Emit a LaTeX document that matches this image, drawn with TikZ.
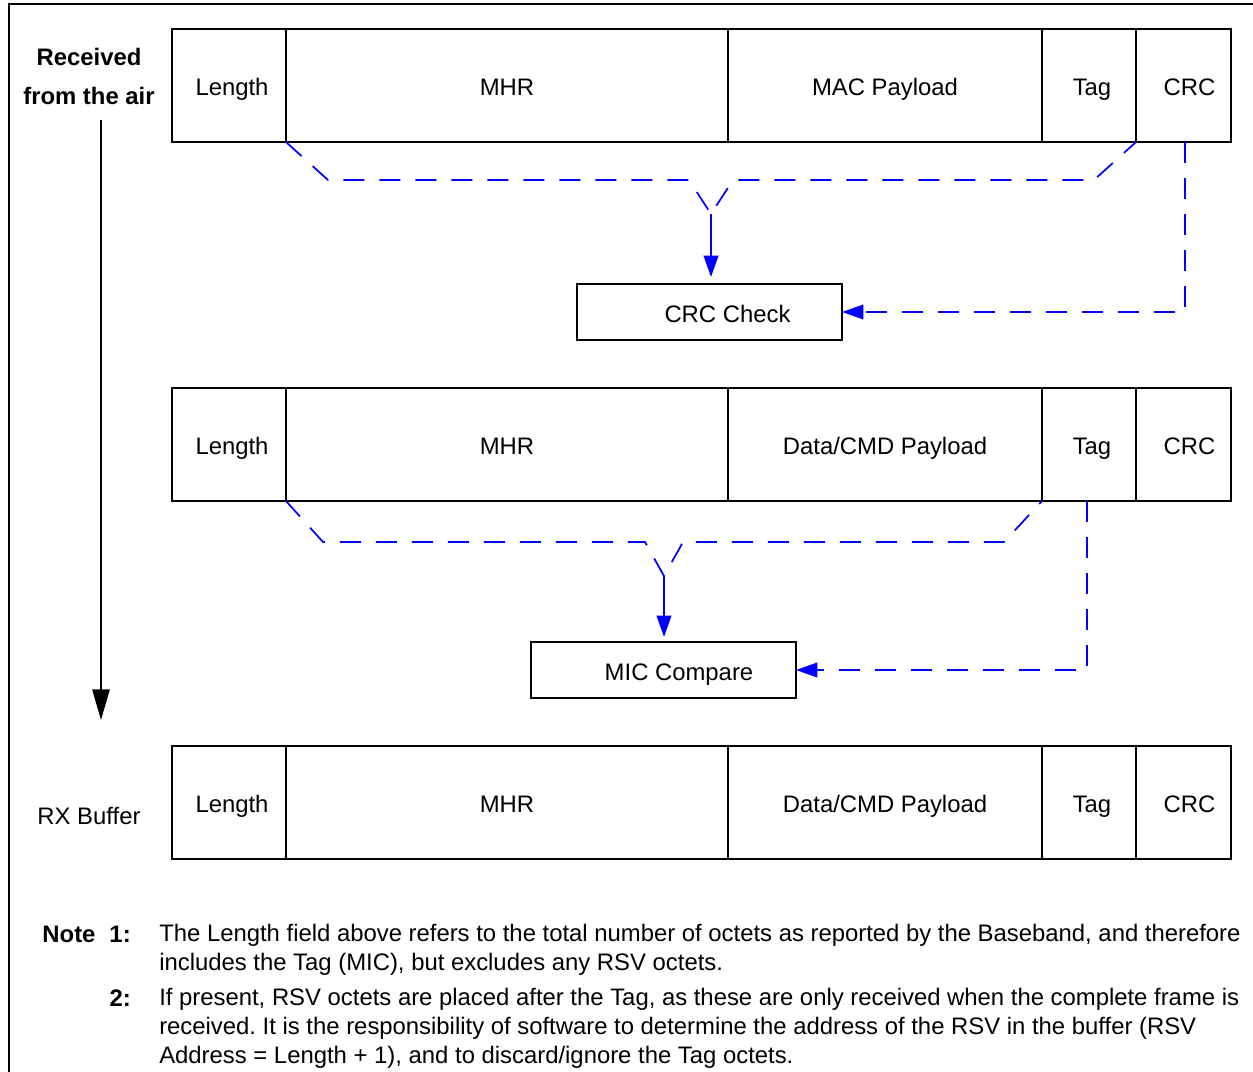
\documentclass[tikz,border=0pt]{standalone}
\usepackage{fontspec}
\setmainfont{Liberation Sans}
\usetikzlibrary{positioning,arrows.meta}
\newlength\px
\setlength\px{0.75pt}
\newcommand{\diagfont}{\fontsize{17.9}{21.75}\selectfont}
\definecolor{linkblue}{RGB}{0,0,255}
\frenchspacing

\begin{document}
\begin{tikzpicture}[
    x=0.75pt, y=-0.75pt,
    cell/.style={draw=black, line width=1.2pt, minimum height=113\px, inner sep=0pt, outer sep=0pt, text height=15pt, text depth=0pt, font=\diagfont},
    checkbox/.style={draw=black, line width=1.2pt, minimum height=56\px, minimum width=265\px, inner sep=0pt, outer sep=0pt, text height=15pt, text depth=0pt, font=\diagfont},
    bluedash/.style={draw=linkblue, line width=1.3pt, dash pattern=on 21\px off 15\px},
    bluearrow/.style={draw=linkblue, line width=1.3pt, -{Triangle[length=16pt, width=11pt]}}
    ]
        \useasboundingbox (0,0) rectangle (1253,1071);
        %Frame
        \draw[line width=1.3pt] (9,1080) -- (9,4) -- (1260,4);

        %Received from the air
        \node[font=\diagfont\bfseries, align=center, inner sep=0pt]
            (air)   at (89,76)   {Received\\[7.5pt]from the air};
        \node[font=\diagfont, inner sep=0pt]
            (rxbuf) at (89,816)  {RX Buffer};
        \coordinate (airtop) at (101,120);
        \coordinate (airbot) at (101,720);
        \draw[line width=1.3pt, -{Triangle[length=23pt, width=13pt]}]
            (airtop) -- (airbot);

        %Frame as received
        \node[cell, minimum width=114\px, anchor=north west]
            (len1)                          at (172,29) {\hspace*{6\px}Length};
        \node[cell, minimum width=442\px]
            (mhr1)  [right=0pt of len1]     {MHR};
        \node[cell, minimum width=314\px]
            (pay1)  [right=0pt of mhr1]     {MAC Payload};
        \node[cell, minimum width=94\px]
            (tag1)  [right=0pt of pay1]     {\hspace*{6\px}Tag};
        \node[cell, minimum width=95\px]
            (crc1)  [right=0pt of tag1]     {\hspace*{12\px}CRC};

        %Frame after CRC check
        \node[cell, minimum width=114\px, anchor=north west]
            (len2)                          at (172,388) {\hspace*{6\px}Length};
        \node[cell, minimum width=442\px]
            (mhr2)  [right=0pt of len2]     {MHR};
        \node[cell, minimum width=314\px]
            (pay2)  [right=0pt of mhr2]     {Data/CMD Payload};
        \node[cell, minimum width=94\px]
            (tag2)  [right=0pt of pay2]     {\hspace*{6\px}Tag};
        \node[cell, minimum width=95\px]
            (crc2)  [right=0pt of tag2]     {\hspace*{12\px}CRC};

        %Frame in RX buffer
        \node[cell, minimum width=114\px, anchor=north west]
            (len3)                          at (172,746) {\hspace*{6\px}Length};
        \node[cell, minimum width=442\px]
            (mhr3)  [right=0pt of len3]     {MHR};
        \node[cell, minimum width=314\px]
            (pay3)  [right=0pt of mhr3]     {Data/CMD Payload};
        \node[cell, minimum width=94\px]
            (tag3)  [right=0pt of pay3]     {\hspace*{6\px}Tag};
        \node[cell, minimum width=95\px]
            (crc3)  [right=0pt of tag3]     {\hspace*{12\px}CRC};

        %Check boxes
        \node[checkbox, anchor=north west]
            (crcchk)    at (577,284)    {\hspace*{36\px}CRC Check};
        \node[checkbox, anchor=north west]
            (miccmp)    at (531,642)    {\hspace*{31\px}MIC Compare};

        %Braces
        \coordinate (crctip) at (711,214);
        \coordinate (mictip) at (664,576);
        \draw[bluedash]
            (mhr1.south west) -- (328,180) -- (689,180) -- (crctip)
            -- (733,180) -- (1094,180) -- (tag1.south east);
        \draw[bluedash]
            (mhr2.south west) -- (323,542) -- (645,542) -- (mictip)
            -- (683,542) -- (1004,542) -- (pay2.south east);

        %Lines
        \draw[bluearrow, shorten >=7\px]
            (crctip) -- (crctip |- crcchk.north);
        \draw[bluearrow, shorten >=5\px]
            (mictip) -- (mictip |- miccmp.north);
        \draw[bluearrow, bluedash]
            ([xshift=1.5\px]crc1.south) |- (crcchk.east);
        \draw[bluearrow, bluedash]
            ([xshift=-2\px]tag2.south) |- (miccmp.east);

        %Notes
        \node[font=\diagfont\bfseries, anchor=base east, inner sep=0pt]
            (note1) at (131,942) {Note\hspace{14\px}1:};
        \node[font=\diagfont\bfseries, anchor=base east, inner sep=0pt]
            (note2) at (131,1006) {2:};
        \node[font=\diagfont, anchor=north west, align=left, inner sep=0pt]
            (text1) at (159,924) {The Length field above refers to the total number of octets as reported by the Baseband, and therefore\\
            includes the Tag (MIC), but excludes any RSV octets.};
        \node[font=\diagfont, anchor=north west, align=left, inner sep=0pt]
            (text2) at (159,988) {If present, RSV octets are placed after the Tag, as these are only received when the complete frame is\\
            received. It is the responsibility of software to determine the address of the RSV in the buffer (RSV\\
            Address = Length + 1), and to discard/ignore the Tag octets.};
    \end{tikzpicture}
\end{document}
